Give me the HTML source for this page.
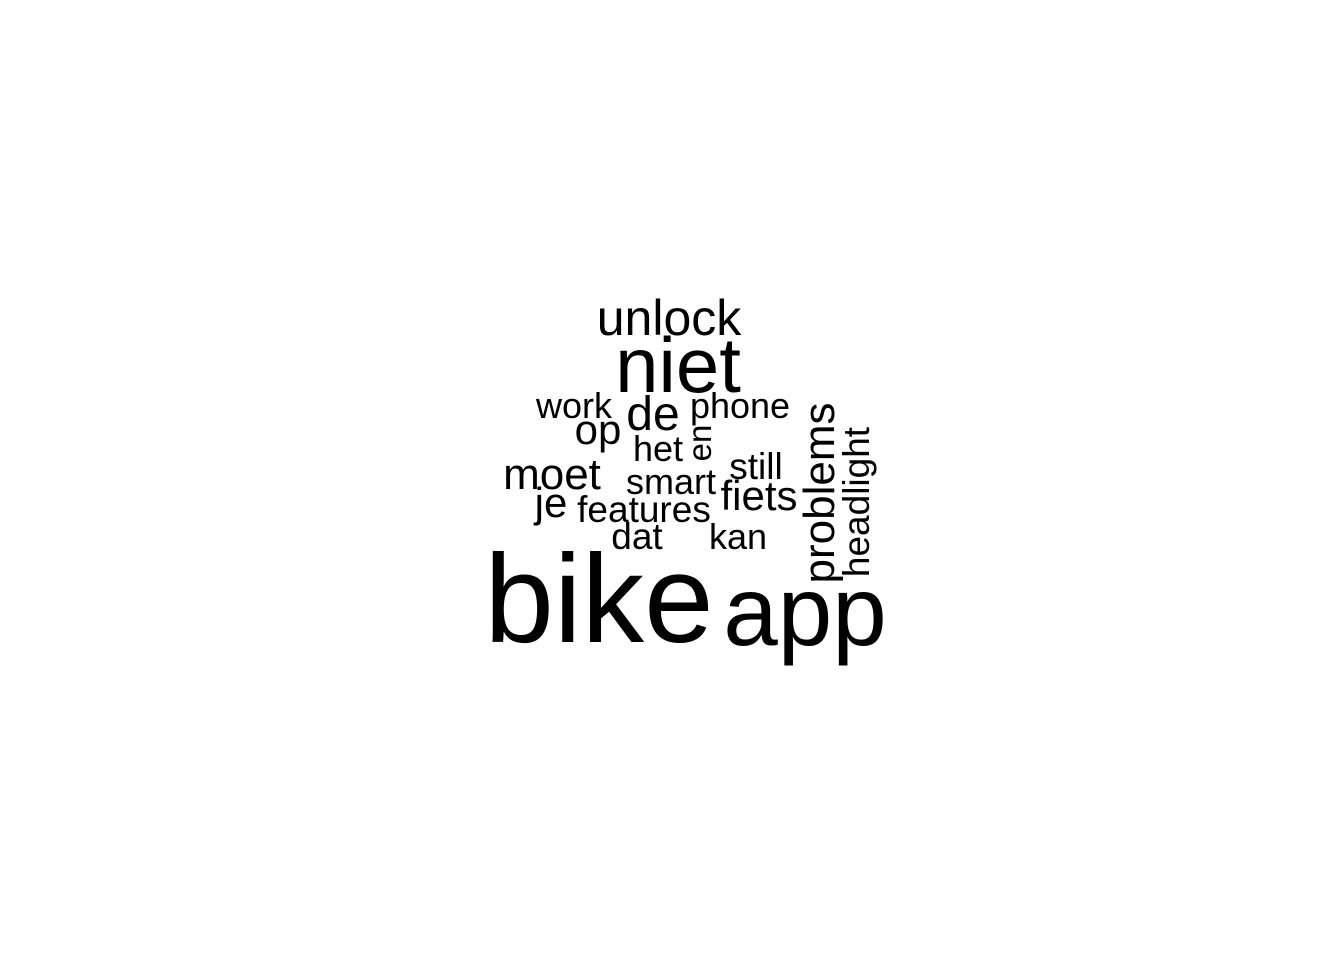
<!DOCTYPE html>
<html>
<head>
<meta charset="utf-8">
<style>
html,body{margin:0;padding:0;background:#fff;}
svg{display:block;}
text{font-family:"Liberation Sans",Arial,sans-serif;fill:#000;}
</style>
</head>
<body>
<svg id="cloud" width="1344" height="960" viewBox="0 0 1344 960"></svg>
<script>
const words = ["bike","app","niet","unlock","work","de","phone","op","het","en","moet","still","smart","fiets","je","features","dat","kan","problems","headlight"];
const sizes = [125,98,78,50,36,48,36,42,36,33,44,37,36,42,42,37,37,36,44,37];
const rotated = [0,0,0,0,0,0,0,0,0,1,0,0,0,0,0,0,0,0,1,1];
const layoutX = [599,805,678,669,574,653,740,598,658,711,552,756,671,759,551,644,637,738,834,869];
const layoutY = [642,645,392,335,418,430,418,444,461,443,489,479,494,510,517,522,549,549,493,502];
const svg = document.getElementById('cloud');
for (let i = 0; i < words.length; i++) {
  const t = document.createElementNS('http://www.w3.org/2000/svg','text');
  t.textContent = words[i];
  t.setAttribute('font-size', sizes[i]);
  t.setAttribute('text-anchor','middle');
  if (rotated[i]) {
    t.setAttribute('transform','translate(' + layoutX[i] + ',' + layoutY[i] + ') rotate(-90)');
  } else {
    t.setAttribute('x', layoutX[i]);
    t.setAttribute('y', layoutY[i]);
  }
  
  
  svg.appendChild(t);
}
</script>
</body>
</html>
